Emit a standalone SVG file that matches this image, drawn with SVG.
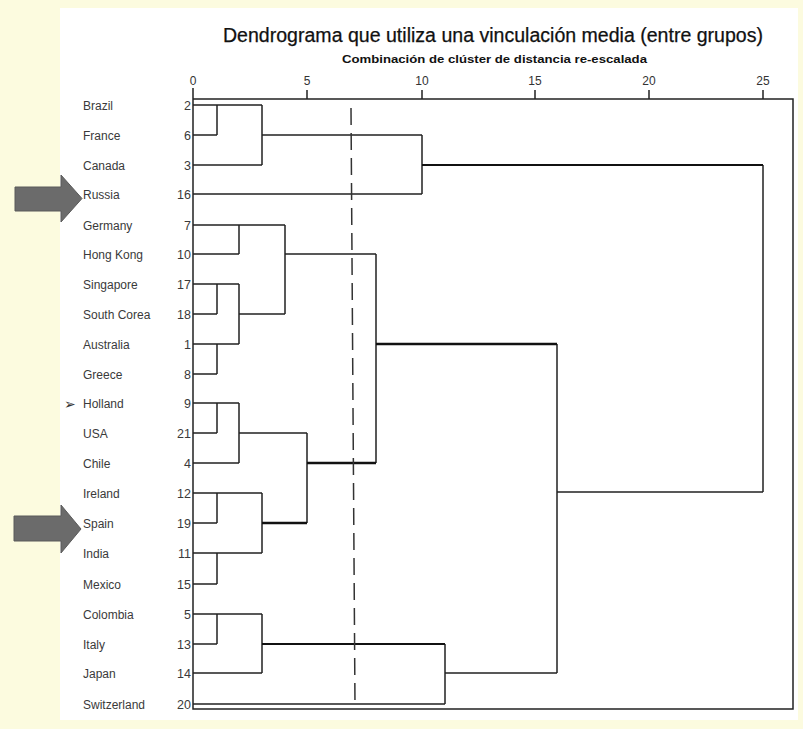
<svg xmlns="http://www.w3.org/2000/svg" width="803" height="729" viewBox="0 0 803 729">
<style>
.lbl{font-family:"Liberation Sans",Arial,sans-serif;font-size:12px;fill:#3a3a3a}
.num{font-family:"Liberation Sans",Arial,sans-serif;font-size:12.5px;fill:#3a3a3a;text-anchor:end}
.ax{font-family:"Liberation Sans",Arial,sans-serif;font-size:12px;fill:#333;text-anchor:middle}
.ln{fill:none;stroke:#222;stroke-width:1.5}
.thick{fill:none;stroke:#111;stroke-width:2.3}
.arrow{fill:#6b6b6b;stroke:#5a5a5a;stroke-width:1}
</style>
<rect x="0" y="0" width="803" height="729" fill="#fcfbdf"/>
<rect x="60" y="8" width="738" height="712" fill="#ffffff"/>
<text x="223" y="42" font-family="Liberation Sans,Arial,sans-serif" font-size="19.5" fill="#111" stroke="#111" stroke-width="0.25" textLength="540" lengthAdjust="spacingAndGlyphs">Dendrograma que utiliza una vinculación media (entre grupos)</text>
<text x="342" y="63" font-family="Liberation Sans,Arial,sans-serif" font-size="11" font-weight="bold" fill="#111" textLength="305" lengthAdjust="spacingAndGlyphs">Combinación de clúster de distancia re-escalada</text>
<g id="axis">
<text class="ax" x="193" y="85">0</text>
<text class="ax" x="307" y="85">5</text>
<text class="ax" x="422" y="85">10</text>
<text class="ax" x="535" y="85">15</text>
<text class="ax" x="649" y="85">20</text>
<text class="ax" x="763" y="85">25</text>
<path class="ln" d="M193 88V709H793V99H193M307 90V99M422 90V99M535 90V99M649 90V99M763 90V99"/>
</g>
<g id="arrows">
<polygon class="arrow" points="15,187 61,187 61,175 82,198.5 61,222 61,211 15,211"/>
<polygon class="arrow" points="14,516 61,516 61,505 81,529 61,553 61,541 14,541"/>
<text x="64" y="409" font-family="DejaVu Sans,sans-serif" font-size="14" fill="#333">➢</text>
</g>
<g id="n2"><text class="lbl" x="83" y="109.5">Brazil</text><text class="num" x="191" y="110">2</text></g>
<g id="n6"><text class="lbl" x="83" y="139.5">France</text><text class="num" x="191" y="140">6</text></g>
<g id="n3"><text class="lbl" x="83" y="169.5">Canada</text><text class="num" x="191" y="170">3</text></g>
<g id="n16"><text class="lbl" x="83" y="198.5">Russia</text><text class="num" x="191" y="199">16</text></g>
<g id="n7"><text class="lbl" x="83" y="229.5">Germany</text><text class="num" x="191" y="230">7</text></g>
<g id="n10"><text class="lbl" x="83" y="258.5">Hong Kong</text><text class="num" x="191" y="259">10</text></g>
<g id="n17"><text class="lbl" x="83" y="288.5">Singapore</text><text class="num" x="191" y="289">17</text></g>
<g id="n18"><text class="lbl" x="83" y="318.5">South Corea</text><text class="num" x="191" y="319">18</text></g>
<g id="n1"><text class="lbl" x="83" y="348.5">Australia</text><text class="num" x="191" y="349">1</text></g>
<g id="n8"><text class="lbl" x="83" y="378.5">Greece</text><text class="num" x="191" y="379">8</text></g>
<g id="n9"><text class="lbl" x="83" y="407.5">Holland</text><text class="num" x="191" y="408">9</text></g>
<g id="n21"><text class="lbl" x="83" y="437.5">USA</text><text class="num" x="191" y="438">21</text></g>
<g id="n4"><text class="lbl" x="83" y="467.5">Chile</text><text class="num" x="191" y="468">4</text></g>
<g id="n12"><text class="lbl" x="83" y="497.5">Ireland</text><text class="num" x="191" y="498">12</text></g>
<g id="n19"><text class="lbl" x="83" y="527.5">Spain</text><text class="num" x="191" y="528">19</text></g>
<g id="n11"><text class="lbl" x="83" y="557.5">India</text><text class="num" x="191" y="558">11</text></g>
<g id="n15"><text class="lbl" x="83" y="588.5">Mexico</text><text class="num" x="191" y="589">15</text></g>
<g id="n5"><text class="lbl" x="83" y="618.5">Colombia</text><text class="num" x="191" y="619">5</text></g>
<g id="n13"><text class="lbl" x="83" y="648.5">Italy</text><text class="num" x="191" y="649">13</text></g>
<g id="n14"><text class="lbl" x="83" y="677.5">Japan</text><text class="num" x="191" y="678">14</text></g>
<g id="n20"><text class="lbl" x="83" y="708.5">Switzerland</text><text class="num" x="191" y="709">20</text></g>
<g id="connectors">
<path class="ln" d="M193 105H262M217 105V135M193 135H217M262 105V165M193 165H262M262 135H422M422 135V194M193 194H422M763 165V492M557 492H763"/>
<path class="thick" d="M422 165H763" style="stroke-width:1.9"/>
<path class="ln" d="M193 225H285M239 225V254M193 254H239M285 225V314M193 284H239M217 284V314M193 314H217M239 284V344M193 344H239M217 344V374M193 374H217M239 314H285M285 254H376M376 254V463M557 344V673"/>
<path class="thick" d="M376 344H557"/>
<path class="ln" d="M193 403H239M217 403V433M193 433H217M239 403V463M193 463H239M239 433H307M307 433V523"/>
<path class="thick" d="M307 463H376"/>
<path class="ln" d="M193 493H262M217 493V523M193 523H217M262 493V553M193 553H262M217 553V584M193 584H217"/>
<path class="thick" d="M262 523H307"/>
<path class="ln" d="M193 614H262M217 614V644M193 644H217M262 614V673M193 673H262M445 644V704M193 704H445M445 673H557"/>
<path class="thick" d="M262 644H445" style="stroke-width:1.9"/>
<path d="M351 108L355 706" fill="none" stroke="#333" stroke-width="1.5" stroke-dasharray="17 8"/>
</g>
</svg>
